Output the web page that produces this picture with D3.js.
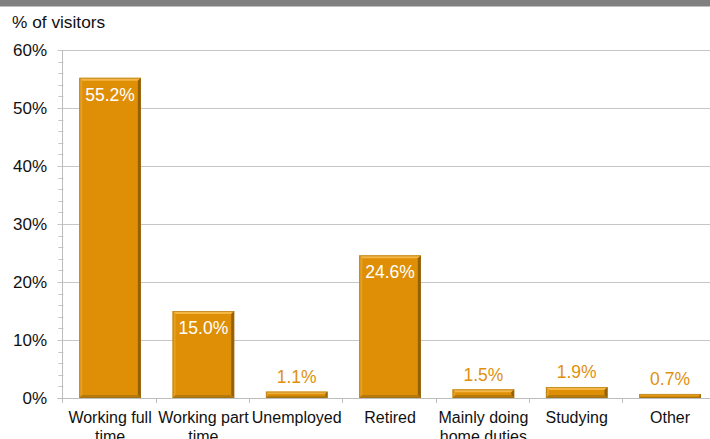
<!DOCTYPE html>
<html>
<head>
<meta charset="utf-8">
<script src="https://cdn.jsdelivr.net/npm/d3@7"></script>
<style>
  html, body { margin: 0; padding: 0; background: #fff; }
  svg { display: block; font-family: "Liberation Sans", Arial, sans-serif; }
</style>
</head>
<body>
<svg id="chart" width="710" height="439"></svg>
<script>
// Employment status of visitors (% of visitors)
const categories = [
  ["Working full", "time"],
  ["Working part", "time"],
  ["Unemployed"],
  ["Retired"],
  ["Mainly doing", "home duties"],
  ["Studying"],
  ["Other"]
];
const values = [55.2, 15.0, 1.1, 24.6, 1.5, 1.9, 0.7];
const yTicks = [0, 10, 20, 30, 40, 50, 60];
const insideThreshold = 10;

const svg = d3.select("#chart");
const W = 710, H = 439;
const plot = { left: 63.4, right: 716.7, top: 50, bottom: 398 };

// header rule
svg.append("rect").attr("x", 0).attr("y", 0).attr("width", W).attr("height", 6.5).attr("fill", "#808080");

const x = d3.scaleBand()
  .domain(d3.range(values.length))
  .range([plot.left, plot.right])
  .paddingInner(0.34)
  .paddingOuter(0.17);
const step = x.step();

const y = d3.scaleLinear().domain([0, 60]).range([plot.bottom, plot.top]);

// gridlines
svg.append("g").selectAll("line").data(yTicks.slice(1)).join("line")
  .attr("x1", plot.left - 6).attr("x2", W)
  .attr("y1", d => Math.round(y(d)) + 0.5).attr("y2", d => Math.round(y(d)) + 0.5)
  .attr("stroke", "#C6C6C6").attr("stroke-width", 1);

// minor ticks on the value axis
const minor = d3.range(0, 61, 2).filter(v => v % 10 !== 0);
svg.append("g").selectAll("line").data(minor).join("line")
  .attr("x1", plot.left - 5).attr("x2", plot.left)
  .attr("y1", d => Math.round(y(d)) + 0.5).attr("y2", d => Math.round(y(d)) + 0.5)
  .attr("stroke", "#C6C6C6");

// value axis line
svg.append("line")
  .attr("x1", Math.round(plot.left) - 0.5).attr("x2", Math.round(plot.left) - 0.5)
  .attr("y1", plot.top).attr("y2", plot.bottom + 5)
  .attr("stroke", "#BDBDBD");

// value axis labels
svg.append("g").selectAll("text").data(yTicks).join("text")
  .attr("x", 47).attr("y", d => y(d) + 6)
  .attr("text-anchor", "end")
  .attr("font-size", 17).attr("fill", "#111")
  .text(d => d + "%");

svg.append("text").attr("x", 12).attr("y", 28)
  .attr("font-size", 17.3).attr("fill", "#111").text("% of visitors");

// category axis line and boundary ticks
svg.append("line")
  .attr("x1", plot.left - 6).attr("x2", W)
  .attr("y1", plot.bottom + 0.5).attr("y2", plot.bottom + 0.5)
  .attr("stroke", "#BDBDBD");
svg.append("g").selectAll("line").data(d3.range(values.length + 1)).join("line")
  .attr("x1", i => Math.round(plot.left + i * step) - 0.5)
  .attr("x2", i => Math.round(plot.left + i * step) - 0.5)
  .attr("y1", plot.bottom).attr("y2", plot.bottom + 5)
  .attr("stroke", "#BDBDBD");

// bars with bevelled edges
const bars = svg.append("g").selectAll("g").data(values).join("g");
bars.each(function(v, i) {
  const g = d3.select(this);
  const x0 = x(i), x1 = x(i) + x.bandwidth();
  const y0 = y(v), y1 = y(0);
  const h = y1 - y0;
  const b = Math.min(3, h / 3);
  g.append("rect").attr("x", x0).attr("y", y0).attr("width", x1 - x0).attr("height", h)
    .attr("fill", "#DE8F06");
  const poly = (pts, fill) => g.append("polygon")
    .attr("points", pts.map(p => p.join(",")).join(" ")).attr("fill", fill);
  // top
  poly([[x0, y0], [x1, y0], [x1 - b, y0 + b], [x0 + b, y0 + b]], "#F4B744");
  // left
  poly([[x0, y0], [x0 + b, y0 + b], [x0 + b, y1 - b], [x0, y1]], "#E6A024");
  // right
  poly([[x1, y0], [x1, y1], [x1 - b, y1 - b], [x1 - b, y0 + b]], "#93600A");
  // bottom
  poly([[x0, y1], [x1, y1], [x1 - b, y1 - b], [x0 + b, y1 - b]], "#B67A0C");
  g.append("rect").attr("x", x0 + 0.5).attr("y", y0 + 0.5)
    .attr("width", x1 - x0 - 1).attr("height", Math.max(0, h - 1))
    .attr("fill", "none").attr("stroke", "#9C6A14").attr("stroke-opacity", 0.5).attr("stroke-width", 1);
});

// value labels
svg.append("g").selectAll("text").data(values).join("text")
  .attr("x", (d, i) => x(i) + x.bandwidth() / 2)
  .attr("y", d => d >= insideThreshold ? y(d) + 23 : y(d) - 8.5)
  .attr("text-anchor", "middle")
  .attr("font-size", 17.5)
  .attr("fill", d => d >= insideThreshold ? "#FFFFFF" : "#E0900C")
  .text(d => d.toFixed(1) + "%");

// category labels
const cat = svg.append("g").selectAll("text").data(categories).join("text")
  .attr("x", (d, i) => x(i) + x.bandwidth() / 2)
  .attr("y", 423)
  .attr("text-anchor", "middle")
  .attr("font-size", 16).attr("fill", "#111");
cat.selectAll("tspan").data(d => d).join("tspan")
  .attr("x", function() { return d3.select(this.parentNode).attr("x"); })
  .attr("dy", (d, j) => j === 0 ? 0 : 19)
  .text(d => d);
</script>
</body>
</html>
